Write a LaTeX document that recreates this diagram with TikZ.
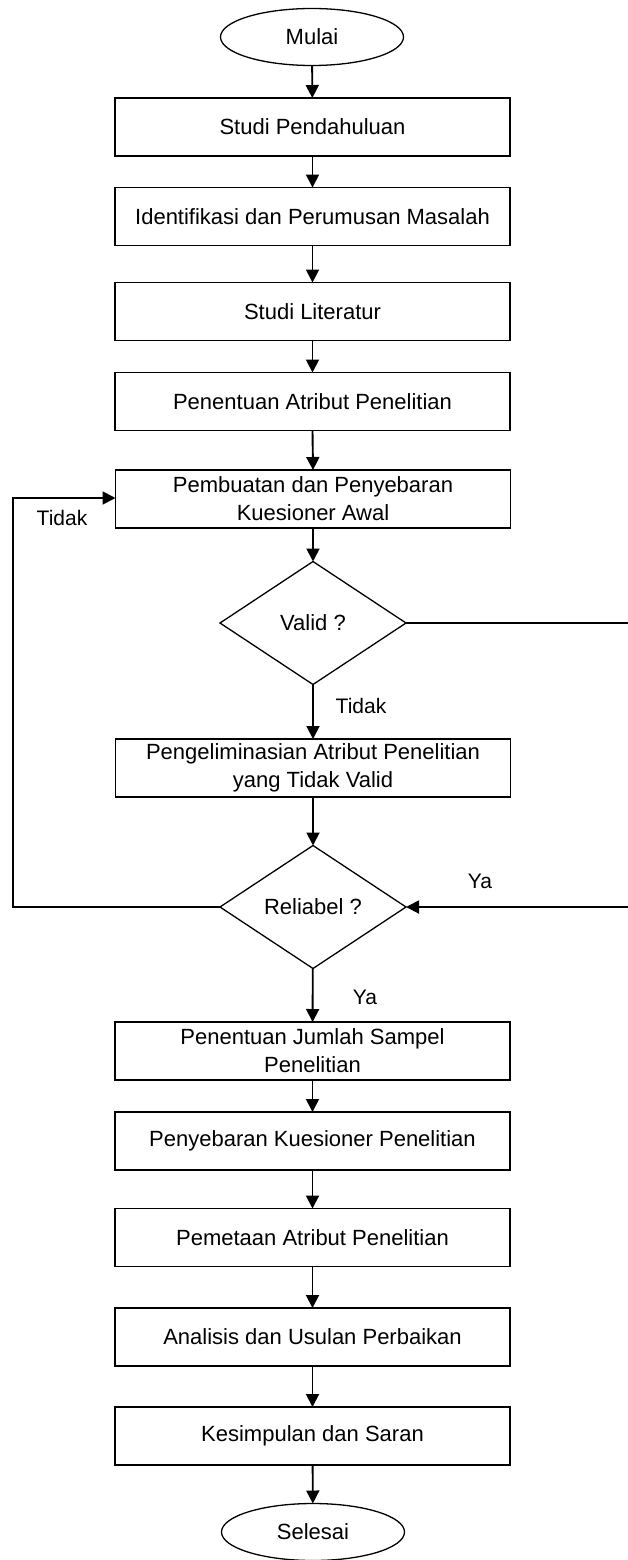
\documentclass[tikz,border=0pt]{standalone}
\usepackage{fontspec}
\setmainfont{Liberation Sans}
\usetikzlibrary{shapes.geometric,arrows.meta}
\tikzset{
  stepbox/.style={draw, line width=1.8pt, minimum width=395pt, minimum height=58pt, inner sep=0pt, outer sep=0pt, align=center, font=\fontsize{22}{28}\selectfont},
  terminal/.style={draw, ellipse, line width=1.3pt, minimum width=183pt, minimum height=57pt, inner sep=0pt, outer sep=0pt, font=\fontsize{22}{28}\selectfont},
  decision/.style={draw, diamond, line width=1.3pt, minimum width=186pt, minimum height=123pt, inner sep=0pt, outer sep=0pt, font=\fontsize{22}{28}\selectfont},
  lbl/.style={inner sep=0pt, font=\fontsize{21}{26}\selectfont},
  flow/.style={line width=1.9pt, -{Triangle[length=13pt,width=13pt]}},
}
\begin{document}
\begin{tikzpicture}[x=1pt,y=1pt]
\useasboundingbox (0,0) rectangle (628,-1560);
\node[terminal] (mulai) at (312,-37) {Mulai};
\node[stepbox] (b1) at (312.5,-127) {Studi Pendahuluan};
\node[stepbox] (b2) at (312.5,-216.5) {Identifikasi dan Perumusan Masalah};
\node[stepbox] (b3) at (312.5,-311.5) {Studi Literatur};
\node[stepbox] (b4) at (312.5,-401.5) {Penentuan Atribut Penelitian};
\node[stepbox] (b5) at (313,-499) {Pembuatan dan Penyebaran\\Kuesioner Awal};
\node[decision] (valid) at (313,-623) {Valid ?};
\node[stepbox] (b6) at (313,-768) {Pengeliminasian Atribut Penelitian\\yang Tidak Valid};
\node[decision] (rel) at (313,-907) {Reliabel ?};
\node[stepbox] (b7) at (312.5,-1051) {Penentuan Jumlah Sampel\\Penelitian};
\node[stepbox] (b8) at (312.5,-1141) {Penyebaran Kuesioner Penelitian};
\node[stepbox] (b9) at (312.5,-1237.5) {Pemetaan Atribut Penelitian};
\node[stepbox] (b10) at (312.5,-1337) {Analisis dan Usulan Perbaikan};
\node[stepbox] (b11) at (312.5,-1436) {Kesimpulan dan Saran};
\node[terminal] (selesai) at (313,-1532) {Selesai};

\node[lbl] (tidak1) at (62,-518) {Tidak};
\node[lbl] (tidak2) at (361,-706) {Tidak};
\node[lbl] (ya1) at (480,-881) {Ya};
\node[lbl] (ya2) at (365,-997) {Ya};

\coordinate (lb) at (13,-907);
\coordinate (lt) at (13,-498);
\coordinate (rt) at (631,-623);
\coordinate (rb) at (631,-907);

\draw[flow] (mulai) -- (b1);
\draw[flow] (b1) -- (b2);
\draw[flow] (b2) -- (b3);
\draw[flow] (b3) -- (b4);
\draw[flow] (b4.south) -- (b5.north);
\draw[flow] (b5) -- (valid);
\draw[flow] (valid) -- (b6);
\draw[flow] (b6) -- (rel);
\draw[flow] (rel) -- (b7);
\draw[flow] (b7) -- (b8);
\draw[flow] (b8) -- (b9);
\draw[flow] (b9) -- (b10);
\draw[flow] (b10) -- (b11);
\draw[flow] (b11) -- (selesai);
\draw[flow] (rel.west) -- (lb) -- (lt) -- (b5.west |- lt);
\draw[flow] (valid.east) -- (rt) -- (rb) -- (rel.east);
\end{tikzpicture}
\end{document}
